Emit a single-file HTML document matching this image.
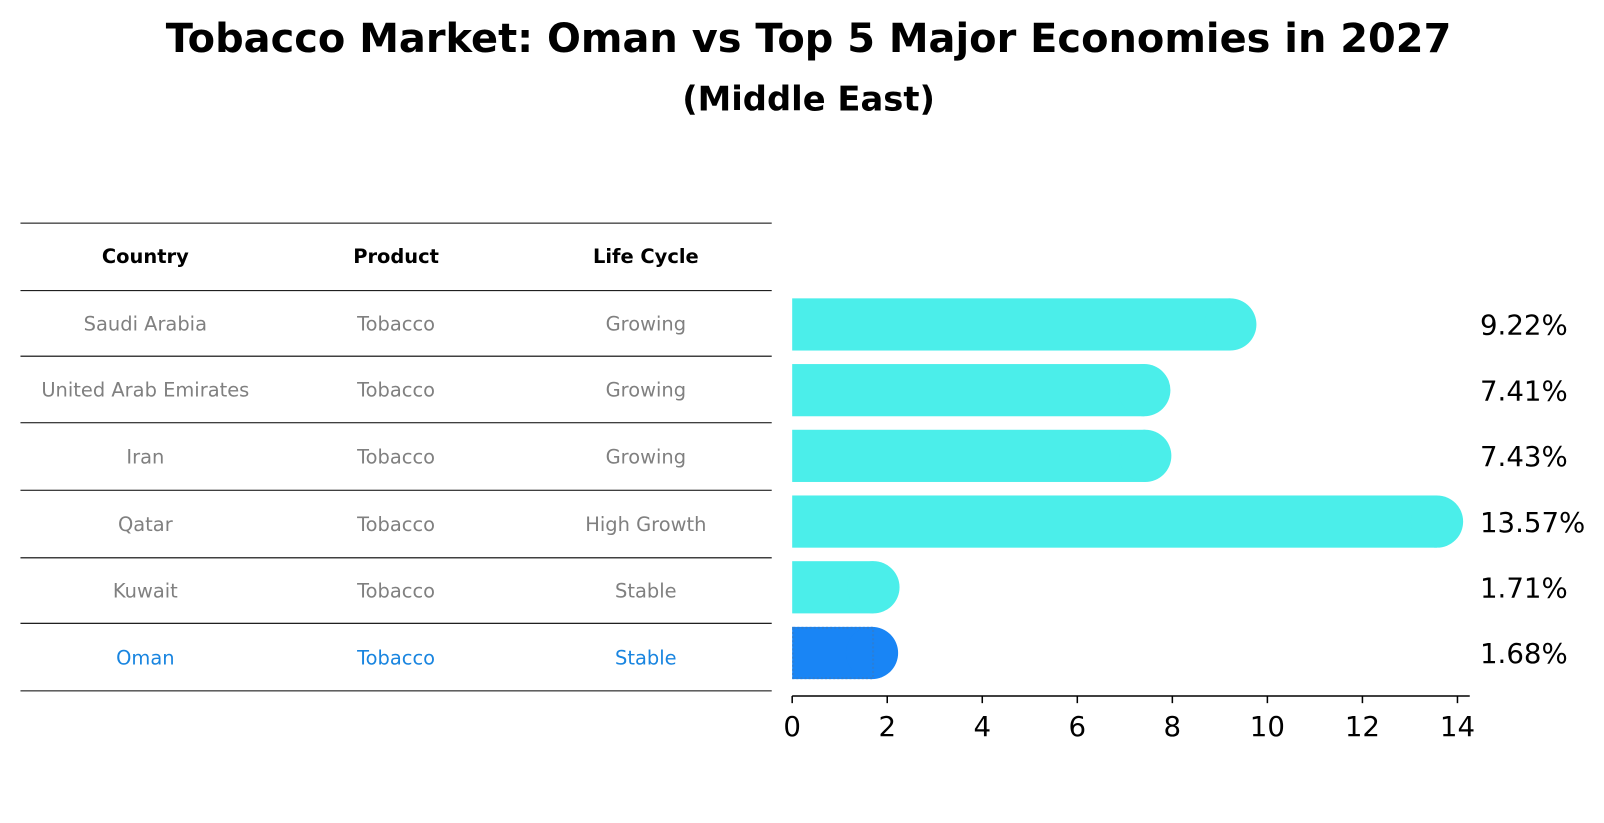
<!DOCTYPE html>
<html><head><meta charset="utf-8"><style>
body{margin:0;background:#fff;font-family:"Liberation Sans","DejaVu Sans",sans-serif}
#wrap{position:relative;width:1604px;height:823px;overflow:hidden}
</style></head><body>
<div id="wrap">
<svg id="svg" width="1604" height="823" xmlns="http://www.w3.org/2000/svg">
<g transform="scale(1.0235)">
<text x="790" y="51" text-anchor="middle" font-size="39" font-weight="bold" font-family="DejaVu Sans, sans-serif">Tobacco Market: Oman vs Top 5 Major Economies in 2027</text>
<text x="790" y="108" text-anchor="middle" font-size="33" font-weight="bold" font-family="DejaVu Sans, sans-serif">(Middle East)</text>
<g id="table"></g>
<g id="bars"></g>
</g>
</svg>
</div>
<script>
const countries=["Saudi Arabia","United Arab Emirates","Iran","Qatar","Kuwait","Oman"];
const products=["Tobacco","Tobacco","Tobacco","Tobacco","Tobacco","Tobacco"];
const lifecycles=["Growing","Growing","Growing","High Growth","Stable","Stable"];
const values=[9.22,7.41,7.43,13.57,1.71,1.68];
const valueLabels=["9.22%","7.41%","7.43%","13.57%","1.71%","1.68%"];
const ticks=[0,2,4,6,8,10,12,14];

const NS="http://www.w3.org/2000/svg";
function mk(tag,attrs,parent){const e=document.createElementNS(NS,tag);for(const k in attrs)e.setAttribute(k,attrs[k]);parent.appendChild(e);return e;}
const tbl=document.getElementById('table'), bars=document.getElementById('bars');
const x0=774, pxPerUnit=(1424-774)/14;
const xs=v=>x0+v*pxPerUnit;
const rowY=i=>317+i*64.2;
const colX=[142,387,631];
const lineYs=[218,284,348,413,479,545,609,675];
lineYs.forEach(y=>{const l=mk('line',{x1:20,x2:754,y1:y,y2:y,stroke:'#000','stroke-width':1},tbl);

});
["Country","Product","Life Cycle"].forEach((h,j)=>{const t=mk('text',{x:colX[j],y:257,'text-anchor':'middle','font-size':19,'font-weight':'bold','font-family':'DejaVu Sans, sans-serif'},tbl);t.textContent=h;

});
countries.forEach((c,i)=>{
  const col=i===countries.length-1?'#1985e0':'#808080';
  [c,products[i],lifecycles[i]].forEach((s,j)=>{
    const t=mk('text',{x:colX[j],y:(lineYs[i+1]+lineYs[i+2])/2+7,'text-anchor':'middle','font-size':19,fill:col,'font-family':'DejaVu Sans, sans-serif'},tbl);t.textContent=s;
    
    
  });
  const y=rowY(i), h=51, isO=i===countries.length-1;
  const fill=isO?'#1985f5':'#4beeea';
  const xe=xs(values[i]);
  const r=mk('rect',{x:x0,y:y-h/2,width:Math.max(0,xe-x0),height:h,fill:fill},bars);
  
  
  const cap=mk('circle',{cx:xe,cy:y,r:h/2,fill:fill},bars);
  
  
  if(isO){const b=mk('rect',{x:x0+1,y:y-h/2+1,width:Math.max(0,xe-x0),height:h-2,fill:'none',stroke:'#2a7fd8','stroke-width':2,'stroke-dasharray':'2,2'},bars);
  
  }
  const lt=mk('text',{x:1446,y:y+10,'font-size':27,'font-family':'DejaVu Sans, sans-serif'},bars);lt.textContent=valueLabels[i];
  
  
});
const ax=mk('line',{x1:x0,x2:1436,y1:680,y2:680,stroke:'#000','stroke-width':1.5},bars);


ticks.forEach(v=>{const tl=mk('line',{x1:xs(v),x2:xs(v),y1:680,y2:687,stroke:'#000','stroke-width':1.5},bars);


const t=mk('text',{x:xs(v),y:719,'text-anchor':'middle','font-size':27,'font-family':'DejaVu Sans, sans-serif'},bars);t.textContent=v;

});
</script>
</body></html>
